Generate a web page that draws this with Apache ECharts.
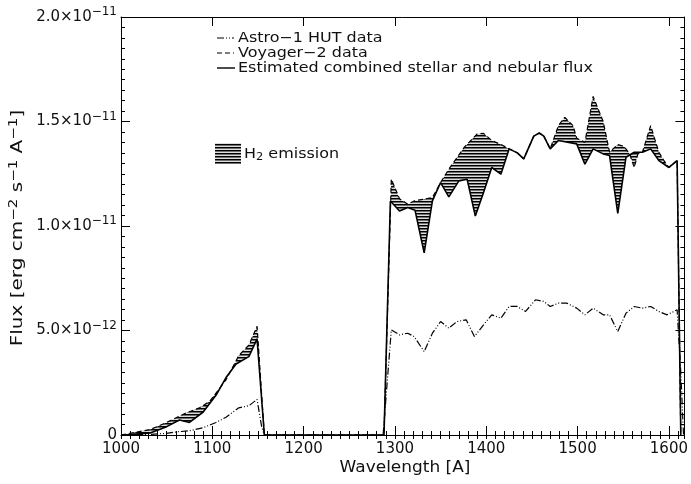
<!DOCTYPE html>
<html>
<head>
<meta charset="utf-8">
<script src="https://cdn.jsdelivr.net/npm/echarts@6.0.0/dist/echarts.min.js"></script>
<style>html,body{margin:0;padding:0;background:#fff}#c{width:691px;height:484px}</style>
</head>
<body>
<div id="c"></div>
<script>
// ---- data (flux in units of 1e-12 erg cm^-2 s^-1 A^-1) ----
const hutWave = [1000,1032,1050,1061,1075,1090,1104,1115,1129,1140,1149,1154,1157,1287,1296,1305,1314,1321,1332,1341,1350,1359,1368,1378,1387,1397,1406,1416,1425,1434,1443,1454,1463,1470,1479,1488,1499,1508,1517,1528,1535,1544,1553,1562,1571,1580,1589,1598,1609,1613,1616];
const hutFlux = [0,0.03,0.08,0.15,0.2,0.35,0.6,0.85,1.3,1.4,1.7,0.4,0,0,5.03,4.79,4.87,4.71,3.99,4.87,5.43,5.11,5.43,5.51,4.71,5.27,5.75,5.59,6.15,6.15,5.91,6.47,6.39,6.15,6.31,6.31,6.07,5.75,6.07,5.75,5.75,4.95,5.83,6.15,6.07,6.15,5.91,5.75,5.99,3,0];

const voyWave = [1000,1006,1032,1050,1071,1086,1097,1115,1129,1140,1149,1157,1288,1296,1305,1314,1321,1341,1350,1359,1376,1390,1397,1406,1416,1425,1434,1441,1452,1458,1463,1470,1479,1486,1495,1499,1508,1517,1528,1535,1544,1551,1557,1562,1566,1571,1580,1589,1595,1600,1609,1613];
const voyFlux = [0,0.05,0.26,0.6,1.05,1.3,1.6,2.64,3.8,4.3,5.2,0,0,12.24,11.3,11.04,11.2,11.36,12.08,12.72,13.77,14.4,14.43,14.09,13.9,13.69,13.5,13.21,14.3,14.45,14.3,13.69,14.8,15.2,14.8,14.2,14.0,16.2,15.0,13.53,13.9,13.8,13.45,12.8,13.45,13.53,14.8,13.53,13.1,12.8,13.13,0];

const estWave = [1000,1006,1032,1050,1064,1075,1090,1104,1115,1126,1140,1149,1157,1288,1295,1305,1314,1322,1332,1341,1350,1359,1370,1379,1388,1397,1406,1416,1425,1434,1441,1452,1458,1463,1470,1479,1499,1508,1517,1528,1535,1544,1553,1562,1571,1580,1589,1600,1609,1613];
const estFlux = [0,0,0.1,0.4,0.72,0.6,1.1,1.9,2.75,3.4,3.75,4.6,0,0,11.2,10.72,10.88,10.75,8.72,11.2,12.08,11.39,12.16,12.24,10.48,11.6,12.8,12.48,13.69,13.5,13.21,14.3,14.45,14.3,13.69,14.09,13.93,12.96,13.69,13.45,13.37,10.6,13.29,13.53,13.53,13.69,13.13,12.8,13.13,0];

const xTickValues = [1000,1100,1200,1300,1400,1500,1600];
const yTickValues = [0,5,10,15,20];
const yTickMantissa = ['0','5.0×10','1.0×10','1.5×10','2.0×10'];
const yTickExponent = ['','−12','−11','−11','−11'];
const legendLabels = ['Astro−1 HUT data','Voyager−2 data','Estimated combined stellar and nebular flux'];
const xTitle = 'Wavelength [A]';
const yTitle = '{m|Flux [erg cm}{s|−2}{m| s}{s|−1}{m| A}{s|−1}{m|]}';

// ---- rendering ----
const FONT = 'DejaVu Sans';
function makePattern(){
  const c = document.createElement('canvas');
  c.width = 4; c.height = 3;
  const g = c.getContext('2d');
  g.fillStyle = '#dddddd'; g.fillRect(0,0,4,3);
  g.fillStyle = '#000000'; g.fillRect(0,0,4,1);
  g.fillStyle = '#707070'; g.fillRect(0,1,4,1);
  return c;
}
const hatch = {image: makePattern(), repeat: 'repeat'};
const pairs = (w,f) => w.map((x,i)=>[x,f[i]]);

const chart = echarts.init(document.getElementById('c'), null, {renderer:'canvas'});
const axisCommon = {
  type:'value', min:1000, max:1617, interval:100,
  axisLine:{show:true, onZero:false, lineStyle:{color:'#000', width:1}},
  splitLine:{show:false}
};
const yCommon = {
  type:'value', min:0, max:20, interval:5,
  axisLine:{show:true, onZero:false, lineStyle:{color:'#000', width:1}},
  axisTick:{show:true, inside:true, length:9, lineStyle:{color:'#000'}},
  minorTick:{show:true, splitNumber:10, length:4, lineStyle:{color:'#000'}},
  splitLine:{show:false}, minorSplitLine:{show:false}
};
const legendText = (txt, y) => ({type:'text', x:238, y:y, scaleX:1.14,
  style:{text:txt, fill:'#111', font:'14px "DejaVu Sans"', textVerticalAlign:'middle'}});
const option = {
  backgroundColor:'#fff',
  animation:false,
  grid:{left:121, right:2, top:17, bottom:49, containLabel:false},
  xAxis:[
    Object.assign({}, axisCommon, {
      position:'bottom',
      axisTick:{show:true, inside:true, length:9, lineStyle:{color:'#000'}},
      axisLabel:{show:true, color:'#111', fontFamily:FONT, fontSize:15, margin:7,
        formatter: v => xTickValues.indexOf(v) >= 0 ? String(v) : ''}
    }),
    Object.assign({}, axisCommon, {
      position:'top',
      axisTick:{show:true, inside:true, length:9, lineStyle:{color:'#000'}},
      axisLabel:{show:false}
    }),
    Object.assign({}, axisCommon, {
      position:'bottom', interval:10, axisLine:{show:false},
      axisTick:{show:true, inside:true, length:4, lineStyle:{color:'#000'}},
      axisLabel:{show:false}
    }),
    Object.assign({}, axisCommon, {
      position:'top', interval:10, axisLine:{show:false},
      axisTick:{show:true, inside:true, length:4, lineStyle:{color:'#000'}},
      axisLabel:{show:false}
    })
  ],
  yAxis:[
    Object.assign({}, yCommon, {
      position:'left',
      axisLabel:{show:true, margin:4, color:'#111', fontFamily:FONT,
        formatter: v => {
          const i = yTickValues.indexOf(v);
          if (i < 0) return '';
          return yTickExponent[i] ? '{m|' + yTickMantissa[i] + '}{s|' + yTickExponent[i] + '}' : '{m|' + yTickMantissa[i] + '}';
        },
        rich:{
          m:{fontFamily:FONT, fontSize:15, color:'#111'},
          s:{fontFamily:FONT, fontSize:12, color:'#111', padding:[0,0,10,0]}
        }
      }
    }),
    Object.assign({}, yCommon, {
      position:'right', axisLabel:{show:false}
    })
  ],
  graphic:[
    {type:'line', shape:{x1:217,y1:38,x2:234,y2:38}, style:{stroke:'#000', lineWidth:1.2, lineDash:[7,2,1,2,1,2]}},
    legendText(legendLabels[0], 38),
    {type:'line', shape:{x1:217,y1:53,x2:234,y2:53}, style:{stroke:'#000', lineWidth:1.2, lineDash:[5,3]}},
    legendText(legendLabels[1], 53),
    {type:'line', shape:{x1:217,y1:68,x2:235,y2:68}, style:{stroke:'#000', lineWidth:1.4}},
    legendText(legendLabels[2], 68),
    {type:'rect', shape:{x:215,y:143,width:26,height:21}, style:{fill:hatch, stroke:'none'}},
    {type:'text', x:244, y:154, scaleX:1.14, style:{text:'{m|H}{b|2}{m| emission}', textVerticalAlign:'middle',
      rich:{m:{fontFamily:FONT, fontSize:14, fill:'#111'}, b:{fontFamily:FONT, fontSize:10, fill:'#111', padding:[6,0,0,0]}}}},
    {type:'text', x:405, y:468, scaleX:1.13, style:{text:xTitle, fill:'#111', font:'15px "DejaVu Sans"', textAlign:'center', textVerticalAlign:'middle'}},
    {type:'text', x:18, y:228, rotation:Math.PI/2, scaleX:1.25, style:{text:yTitle, textAlign:'center', textVerticalAlign:'middle',
      rich:{m:{fontFamily:FONT, fontSize:16, fill:'#111'}, s:{fontFamily:FONT, fontSize:12, fill:'#111', padding:[0,0,9,0]}}}}
  ],
  series:[
    {
      type:'custom', xAxisIndex:0, yAxisIndex:0, coordinateSystem:'cartesian2d', clip:true, z:1,
      data:[[1300,10]],
      renderItem:function(params, api){
        const pts = [];
        for (let i = 0; i < voyWave.length; i++) pts.push(api.coord([voyWave[i], voyFlux[i]]));
        for (let i = estWave.length - 1; i >= 0; i--) pts.push(api.coord([estWave[i], estFlux[i]]));
        return {type:'polygon', shape:{points:pts}, style:{fill:hatch, stroke:null}};
      }
    },
    {type:'line', name:legendLabels[0], xAxisIndex:0, yAxisIndex:0, data:pairs(hutWave,hutFlux), showSymbol:false, z:3,
      lineStyle:{color:'#000', width:1.2, type:[7,2,1,2,1,2]}},
    {type:'line', name:legendLabels[1], xAxisIndex:0, yAxisIndex:0, data:pairs(voyWave,voyFlux), showSymbol:false, z:3,
      lineStyle:{color:'#000', width:1.2, type:[5,3]}},
    {type:'line', name:legendLabels[2], xAxisIndex:0, yAxisIndex:0, data:pairs(estWave,estFlux), showSymbol:false, z:4,
      lineStyle:{color:'#000', width:1.6}}
  ]
};
chart.setOption(option);
</script>
</body>
</html>
